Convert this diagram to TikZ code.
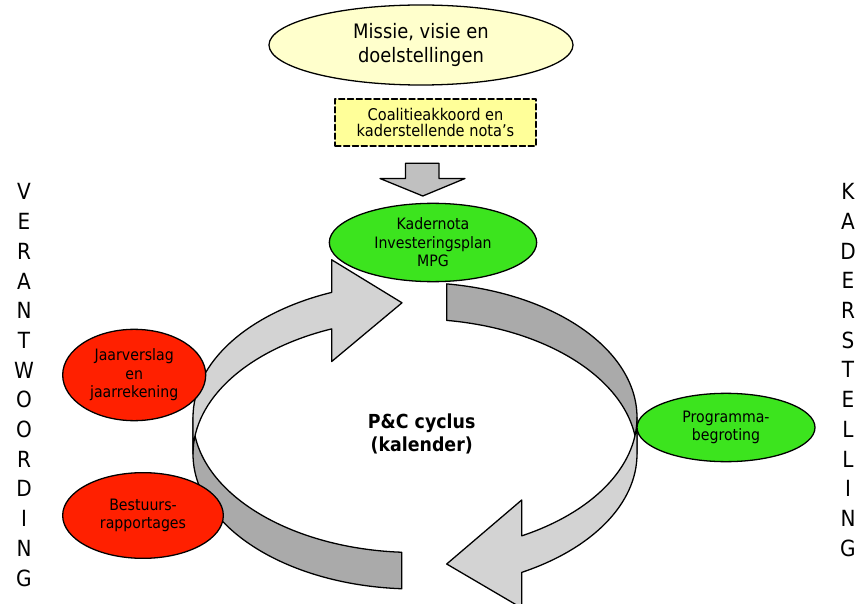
\documentclass[tikz,border=0pt]{standalone}
\usepackage{fontspec}
\setmainfont[FakeStretch=0.9]{DejaVu Sans}
\usetikzlibrary{shapes.geometric}
\definecolor{missiegeel}{RGB}{255,255,204}
\definecolor{coalitiegeel}{RGB}{255,255,153}
\definecolor{kadergroen}{RGB}{60,228,30}
\definecolor{verantrood}{RGB}{255,32,0}
\definecolor{pijlgrijs}{RGB}{192,192,192}
\definecolor{ringlicht}{RGB}{211,211,211}
\definecolor{ringdonker}{RGB}{170,170,170}
\begin{document}
\begin{tikzpicture}[line cap=round,line join=round,x=0.03cm,y=0.03cm,
	ring/.style={x radius=222,y radius=135},
	band/.style={draw=black,line width=1.1pt},
	ovaal/.style={ellipse,draw=black,line width=1.1pt,inner sep=0pt,align=center},
	kleintekst/.style={font=\fontsize{13.4}{15.8}\selectfont},
	zijletters/.style={align=center,inner sep=0pt,font=\fontsize{19}{25.35}\selectfont}]
			\clip(0,0) rectangle (859,603);
			\coordinate (c1) at (415,185.5);
			\coordinate (c2) at (415,149);
			% ring: donkere delen
			\draw [band,fill=ringdonker] ([shift={(c1)}]266.57:222 and 135) arc[ring,start angle=266.57,end angle=180] -- ([shift={(c2)}]180:222 and 135) arc[ring,start angle=180,end angle=266.57] -- cycle;
			\draw [band,fill=ringdonker] ([shift={(c1)}]81.79:222 and 135) arc[ring,start angle=81.79,end angle=0] -- ([shift={(c2)}]0:222 and 135) arc[ring,start angle=0,end angle=81.79] -- cycle;
			% ring: lichte delen met pijlpunt
			\draw [band,fill=ringlicht] ([shift={(c1)}]180:222 and 135) arc[ring,start angle=180,end angle=112.04] -- (331.7,343.2) -- (402,300.2) -- (331.7,241.5) -- ([shift={(c2)}]112.04:222 and 135) arc[ring,start angle=112.04,end angle=180] -- cycle;
			\draw [band,fill=ringlicht] ([shift={(c1)}]0:222 and 135) arc[ring,start angle=0,end angle=-61.27] -- (521.7,103) -- (446.7,39) -- (521.7,-5) -- ([shift={(c2)}]-61.27:222 and 135) arc[ring,start angle=-61.27,end angle=0] -- cycle;
			% pijl naar beneden
			\draw [line width=1.1pt,fill=pijlgrijs] (405.5,439.8) -- (439,439.8) -- (439,424.5) -- (465,424.5) -- (422.8,407) -- (380,424.5) -- (405.5,424.5) -- cycle;
			\node [ovaal,fill=missiegeel,minimum width=9.12cm,minimum height=2.4cm,font=\fontsize{17}{19.8}\selectfont] (missie) at (421,558) {Missie, visie en\\doelstellingen};
			\node [draw=black,line width=1.3pt,dash pattern=on 5pt off 2.5pt,fill=coalitiegeel,minimum width=6.03cm,minimum height=1.41cm,inner sep=0pt,align=center,font=\fontsize{13.8}{13.6}\selectfont] (coalitie) at (435.5,480.5) {Coalitieakkoord en\\kaderstellende nota’s};
			\node [ovaal,kleintekst,fill=kadergroen,minimum width=6.22cm,minimum height=2.35cm] (kadernota) at (433,360.5) {Kadernota\\Investeringsplan\\MPG};
			\node [ovaal,kleintekst,fill=kadergroen,minimum width=5.34cm,minimum height=2.05cm] (programma) at (726,175.5) {Programma-\\begroting};
			\node [ovaal,kleintekst,fill=verantrood,minimum width=4.29cm,minimum height=2.74cm] (jaarverslag) at (134.2,228) {Jaarverslag\\en\\jaarrekening};
			\node [ovaal,kleintekst,fill=verantrood,minimum width=4.82cm,minimum height=2.57cm] (bestuurs) at (143,87.5) {Bestuurs-\\rapportages};
			\node [align=center,font=\bfseries\fontsize{16.5}{19.3}\selectfont] (cyclus) at (421.7,169) {P\&C cyclus\\(kalender)};
			\node [zijletters] (verantwoording) at (24,218) {V\\E\\R\\A\\N\\T\\W\\O\\O\\R\\D\\I\\N\\G};
			\node [zijletters] (kaderstelling) at (848,233) {K\\A\\D\\E\\R\\S\\T\\E\\L\\L\\I\\N\\G};
		\end{tikzpicture}
\end{document}
